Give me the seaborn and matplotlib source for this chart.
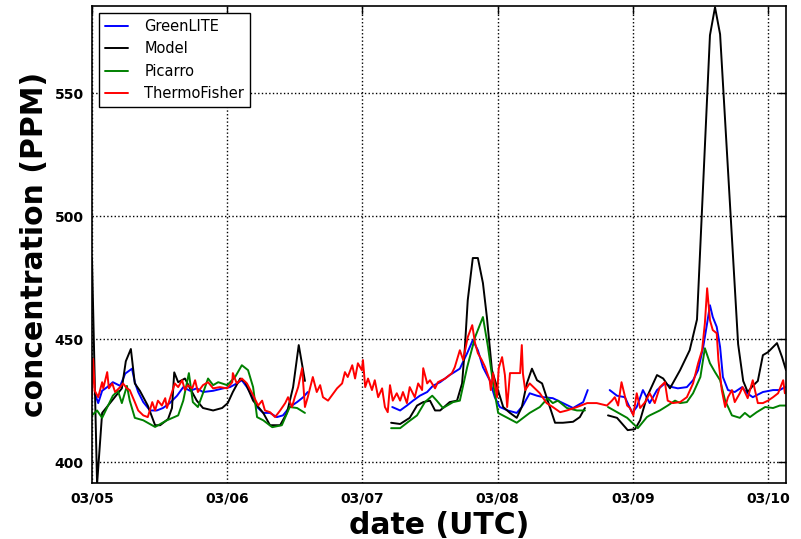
import pandas as pd
import matplotlib
matplotlib.use("Agg")
import matplotlib.pyplot as plt
import matplotlib.dates as mdates
import seaborn as sns

# time in hours after 2016-03-05 00:00 UTC, concentration in PPM
# each instrument is split into the segments where it has data

model_seg1_h = [0.0, 0.9, 1.8, 3.2, 5.3, 6.0, 6.9, 7.6, 8.5, 9.9, 11.2, 12.1, 13.5, 14.2, 14.6,
                15.3, 16.5, 17.4, 18.6, 19.7, 21.5, 23.1, 24.1, 25.0, 26.3, 27.2, 28.6, 30.4,
                31.6, 33.4, 34.6, 35.7, 36.7, 37.8]
model_seg1_v = [483, 391, 420, 424, 430, 441, 446, 432, 429, 423, 415, 415, 417.5, 422, 436.5,
                432.5, 434, 430, 425, 422, 421, 422, 424, 428.5, 434, 432.5, 425, 420,
                415, 415, 420, 430.5, 447.6, 433]
model_seg2_h = [53.1, 54.7, 56.4, 57.7, 58.8, 60.0, 60.9, 61.8, 63.5, 64.8, 65.7, 66.2, 66.7,
                67.6, 68.5, 69.4, 70.1, 71.0, 72.1, 73.0, 74.2, 75.4, 76.3, 77.2, 78.1, 79.0,
                79.9, 80.9, 82.2, 83.6, 85.4, 86.6, 87.5]
model_seg2_v = [416, 415.5, 418, 423, 424.4, 425, 421, 421, 424.4, 425, 432, 446.8, 465.8,
                483, 483, 472.8, 459, 437.4, 429, 422.4, 420, 418, 422.4, 432, 438, 433.3,
                432, 425, 416, 416, 416.4, 418.3, 422]
model_seg3_h = [91.6, 93.2, 95.1, 96.4, 97.3, 98.5, 100.3, 101.4, 102.6, 104.4, 106.1, 107.4,
                109.7, 110.6, 111.5, 114.7, 115.6, 116.4, 117.3, 118.2, 119.1, 120.0, 121.6,
                122.5, 123.2]
model_seg3_v = [419, 418, 413, 413.4, 417, 426.4, 435.4, 434, 430, 437.4, 445.5, 458,
                573.6, 585, 574, 448, 433, 428.5, 431, 433, 443.5, 444.7, 448.4,
                442.7, 437.4]

green_seg1_h = [0.5, 1.1, 1.8, 2.7, 3.7, 5.0, 5.9, 7.1, 7.6, 8.2, 9.1, 10.3, 11.5, 12.6, 13.8,
                15.1, 16.2, 17.4, 18.6, 19.7, 21.5, 23.3, 24.5, 25.7, 26.6, 27.5, 28.4, 29.3,
                30.4, 31.6, 32.8, 33.9, 35.1, 36.4, 37.5, 38.3]
green_seg1_v = [428, 424, 429, 430.5, 432.5, 431, 436, 438, 432.5, 428.5, 424.4, 421, 421, 422,
                424, 427, 430.5, 429, 430, 428.5, 429, 430, 430.5, 432, 433.3, 430.5, 427,
                422.4, 420, 420, 418.3, 419, 422.4, 424.4, 426.4, 428.5]
green_seg2_h = [53.3, 54.7, 55.9, 57.0, 58.2, 59.5, 60.5, 61.8, 63.5, 65.3, 66.6, 67.6, 68.5,
                69.4, 70.6, 71.5, 72.4, 73.8, 75.4, 76.5, 77.7, 79.0, 80.1, 81.8, 83.6, 85.4,
                87.2, 88.0]
green_seg2_v = [422.4, 421, 423, 425, 427, 428.5, 431, 432.5, 435.4, 438, 444.3, 449.6, 445.5,
                438.6, 433.3, 426.4, 422.4, 421, 420, 423, 428, 427, 426.4, 426, 424, 422,
                424.4, 429.3]
green_seg3_h = [91.9, 93.2, 94.6, 95.9, 96.7, 97.8, 99.0, 100.3, 101.7, 103.0, 104.0, 105.6,
                106.7, 107.6, 108.5, 109.2, 109.7, 110.2, 110.9, 111.5, 112.0, 112.9, 114.1,
                115.4, 116.3, 117.3, 119.1, 120.9, 122.1, 123.0]
green_seg3_v = [429.3, 427, 426.4, 420, 422.4, 429.3, 424, 429.3, 432, 430.5, 430, 430.5,
                433.3, 437.4, 446.8, 456.5, 463.8, 459, 455, 446.8, 434.6, 429.3, 428.5,
                430.5, 428, 426.4, 428.5, 429.3, 429.3, 430.5]

picarro_seg1_h = [0.0, 0.9, 1.8, 3.7, 4.6, 5.3, 6.2, 6.7, 7.6, 9.1, 11.2, 13.3, 15.3, 16.2,
                  17.2, 17.9, 18.8, 19.7, 20.6, 21.5, 22.4, 24.0, 25.4, 26.6, 27.7, 28.6, 29.3,
                  30.4, 32.0, 33.7, 35.1, 36.4, 37.8]
picarro_seg1_v = [419, 421, 418, 427, 429, 424, 431, 425, 418, 417, 414.3, 417, 419, 425,
                  436.2, 424.4, 422.4, 428, 434, 431.3, 432.5, 431.3, 434.6, 439.4, 437.4, 430.5,
                  418.3, 417, 414.2, 415, 422.4, 422, 420]
picarro_seg2_h = [53.1, 54.7, 56.1, 57.7, 59.1, 60.4, 61.2, 62.3, 64.1, 65.3, 66.6, 68.0, 69.4,
                  70.3, 71.2, 72.1, 75.4, 77.7, 79.5, 80.9, 81.8, 82.7, 84.3, 86.1, 87.5]
picarro_seg2_v = [413.8, 413.8, 416.3, 419, 424.4, 427, 425, 422, 424.4, 425, 438.6, 450.8,
                  459, 446.8, 432, 420, 416, 420, 422.4, 426, 424, 425, 422, 421, 421]
picarro_seg3_h = [91.6, 95.0, 96.9, 98.5, 99.0, 100.8, 102.2, 103.5, 104.4, 105.6, 106.7,
                  108.0, 108.8, 109.7, 110.6, 111.5, 112.4, 113.6, 115.0, 115.9, 116.8, 118.0,
                  119.5, 120.9, 122.1, 123.4]
picarro_seg3_v = [422.4, 418, 413.8, 418.3, 419, 421, 423, 425, 424, 424.4, 428,
                  434.6, 446.3, 440.2, 436.6, 433.3, 425, 419, 418, 420, 418.3, 420.3,
                  422.4, 422, 423, 423]

thermo_h = [0.0, 0.2, 0.5, 1.1, 1.8, 2.0, 2.7, 3.0, 3.6, 4.1, 5.0, 5.5, 6.2, 6.7, 7.6, 8.2,
            9.1, 9.9, 10.7, 11.2, 11.7, 12.4, 13.0, 13.3, 14.2, 14.7, 15.3, 16.0, 16.5, 17.0,
            17.8, 18.3, 18.8, 19.7, 20.6, 21.5, 22.7, 24.0, 24.9, 25.0, 25.7, 26.6, 27.5,
            28.6, 29.5, 30.2, 30.7, 31.6, 32.5, 33.4, 34.3, 34.8, 35.5, 36.0, 36.6, 37.3,
            37.8, 38.3, 39.2, 39.9, 40.5, 41.0, 41.9, 42.6, 43.5, 44.4, 44.9, 45.4, 46.2,
            46.7, 47.2, 47.9, 48.1, 48.5, 49.0, 49.7, 50.2, 50.8, 51.5, 52.0, 52.5, 52.9,
            53.4, 54.1, 54.7, 55.2, 55.9, 56.4, 57.3, 57.9, 58.6, 58.8, 59.5, 60.0, 60.9,
            61.4, 62.7, 63.9, 64.4, 65.3, 65.9, 66.7, 67.5, 68.0, 68.5, 69.2, 69.8, 70.6,
            70.8, 71.2, 71.9, 72.2, 72.8, 73.3, 73.7, 74.2, 76.0, 76.3, 76.5, 76.9, 77.7,
            78.6, 79.5, 80.7, 81.8, 83.1, 84.3, 86.1, 87.9, 89.6, 91.4, 92.3, 92.8, 93.4,
            94.0, 95.0, 95.5, 96.1, 96.7, 97.3, 98.2, 99.0, 99.9, 100.8, 101.7, 102.2,
            103.1, 104.4, 105.6, 106.7, 107.6, 108.3, 108.8, 109.2, 109.7, 110.2, 110.9,
            111.2, 111.8, 112.4, 112.9, 113.6, 114.1, 115.0, 115.5, 116.4, 117.3, 118.2,
            119.1, 120.0, 120.9, 121.8, 122.7, 123.0]
thermo_v = [426.4, 442, 429, 426.4, 432.5, 430, 436.6, 430, 432, 428.5, 430.5, 432, 430, 429.3,
            424.4, 421, 419, 418.3, 424.4, 421, 425, 423, 426, 422, 428.5, 432, 430.5, 433.3,
            429.3, 431.3, 430, 433.3, 428.5, 431.3, 432.5, 430, 430.5, 430, 432.5, 436.2,
            432, 434, 432, 427.2, 423, 425, 421, 420.3, 418.3, 421, 424, 426.4, 422.4, 426.4,
            430.5, 438.2, 422.4, 426.4, 434.6, 428.5, 431.3, 426.4, 425, 427.2, 430, 432,
            436.6, 434.6, 439.4, 434, 440.2, 437.4, 441.5, 430.5, 434, 429.3, 433.3, 426.4,
            430, 422.4, 420.3, 431.3, 425, 428, 425, 428.5, 424, 430.5, 426.4, 432, 429.3,
            438.2, 432, 433.3, 430, 432.5, 434, 436.2, 438.6, 445.5, 441.5, 450.8, 455.7,
            448.4, 444.3, 441.5, 438.6, 433.3, 429.3, 436.2, 426.4, 438.2, 442.7, 435.4,
            422.4, 436.2, 436.2, 447.6, 436, 429.3, 432, 430, 428, 424, 422.4, 420.3, 421,
            422.4, 424, 424, 423, 425, 426.4, 423, 432.5, 423, 422, 419, 428, 422, 424.4,
            428, 424, 430.5, 432.5, 425, 424, 424.4, 426.4, 432, 440.2, 445.5, 456.5, 470.7,
            457.7, 453.7, 452.4, 441.5, 429.3, 422.4, 426.4, 429.3, 424.4, 428, 430.5, 426,
            433.3, 424, 424, 425, 426.4, 428, 433.3, 428]

instruments = ["GreenLITE", "Model", "Picarro", "ThermoFisher"]
colors = {"GreenLITE": "#0000ff", "Model": "#000000", "Picarro": "#008000", "ThermoFisher": "#ff0000"}

segments = [
    ("GreenLITE", 1, green_seg1_h, green_seg1_v),
    ("GreenLITE", 2, green_seg2_h, green_seg2_v),
    ("GreenLITE", 3, green_seg3_h, green_seg3_v),
    ("Model", 1, model_seg1_h, model_seg1_v),
    ("Model", 2, model_seg2_h, model_seg2_v),
    ("Model", 3, model_seg3_h, model_seg3_v),
    ("Picarro", 1, picarro_seg1_h, picarro_seg1_v),
    ("Picarro", 2, picarro_seg2_h, picarro_seg2_v),
    ("Picarro", 3, picarro_seg3_h, picarro_seg3_v),
    ("ThermoFisher", 1, thermo_h, thermo_v),
]

start = pd.Timestamp("2016-03-05 00:00")
frames = []
for name, seg, hours, vals in segments:
    frames.append(pd.DataFrame({
        "instrument": name,
        "segment": f"{name}-{seg}",
        "date": start + pd.to_timedelta(hours, unit="h"),
        "ppm": vals,
    }))
df = pd.concat(frames, ignore_index=True)

sns.set_style("white", {
    "axes.edgecolor": "black",
    "axes.labelcolor": "black",
    "text.color": "black",
    "xtick.color": "black",
    "ytick.color": "black",
    "xtick.direction": "in",
    "ytick.direction": "in",
})
plt.rcParams["font.family"] = ["DejaVu Sans"]

fig = plt.figure(figsize=(8.01, 5.39), dpi=100)
ax = fig.add_axes([92 / 801, 1 - 483 / 539, 694 / 801, 477 / 539])

sns.lineplot(data=df, x="date", y="ppm", hue="instrument", hue_order=instruments,
             units="segment", estimator=None, sort=False, palette=colors,
             linewidth=1.4, ax=ax)

ax.set_xlim(start, start + pd.Timedelta(hours=123.2))
ax.set_ylim(391.5, 585.5)
ax.set_yticks([400, 450, 500, 550])
ax.xaxis.set_major_locator(mdates.DayLocator())
ax.xaxis.set_major_formatter(mdates.DateFormatter("%m/%d"))

ax.grid(True, color="black", linestyle=":", linewidth=1.0)
ax.tick_params(axis="both", which="major", direction="in", length=6, width=1,
               top=True, right=True, labelsize=10, pad=6, colors="black")
for lbl in ax.get_xticklabels() + ax.get_yticklabels():
    lbl.set_fontweight("bold")
for sp in ax.spines.values():
    sp.set_linewidth(1.2)
    sp.set_color("black")

ax.set_xlabel("date (UTC)", fontsize=21.5, fontweight="bold", color="black")
ax.set_ylabel("concentration (PPM)", fontsize=21.5, fontweight="bold", color="black")

leg = ax.legend(loc="upper left", fontsize=10.5, handlelength=1.6, handletextpad=1.1,
                labelspacing=0.5, borderaxespad=0.5, fancybox=False, framealpha=1)
leg.get_frame().set_edgecolor("black")
leg.get_frame().set_linewidth(1.0)
for line in leg.get_lines():
    line.set_linewidth(1.4)
for txt in leg.get_texts():
    txt.set_color("black")

fig.savefig("out.png", dpi=100)
